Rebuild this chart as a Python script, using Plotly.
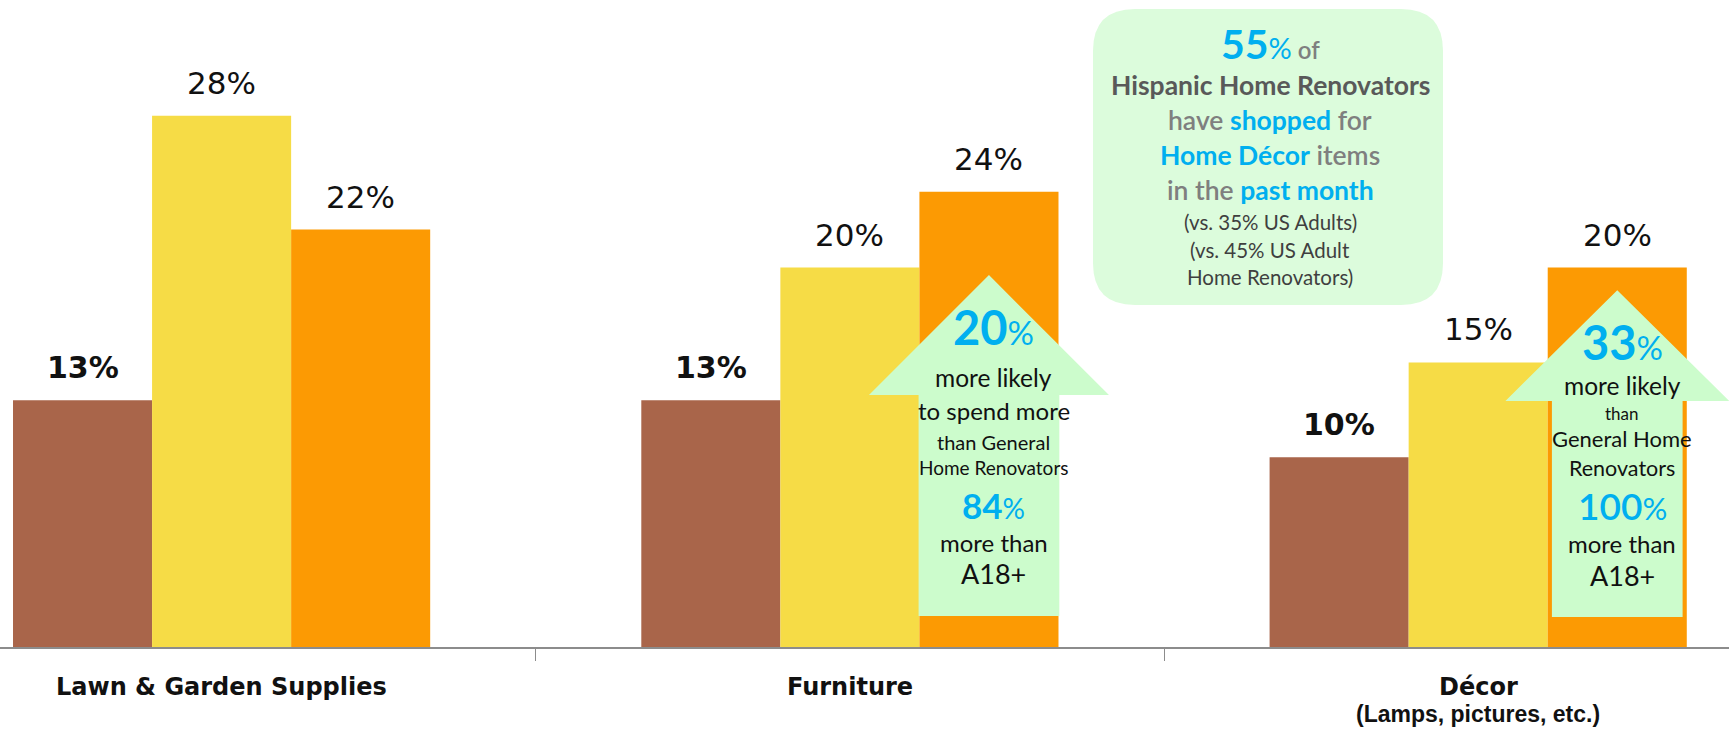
import plotly.graph_objects as go

# ---- data ----
categories = ["Lawn & Garden Supplies", "Furniture", "Décor"]
category_sublabels = ["", "", "(Lamps, pictures, etc.)"]
series_names = ["A18+", "General Home Renovators", "Hispanic Home Renovators"]
a18_vals = [13, 13, 10]
general_vals = [28, 20, 15]
hispanic_vals = [22, 24, 20]
series_values = [a18_vals, general_vals, hispanic_vals]
series_colors = ["#A9654A", "#F6DC46", "#FC9A03"]

# uplift callouts on the Hispanic bars (category index, vs general, vs A18+)
callout_cats = [1, 2]
callout_vs_general = ["20", "33"]
callout_vs_adults = ["84", "100"]

# ---- page geometry ----
W, H = 1729, 731
M_BOTTOM = 84
PLOT_H = H - M_BOTTOM
X_RANGE = [-0.3527, 2.3992]
Y_RANGE = [0, 34.1]

GROUP_W = 0.664
BAR_W = GROUP_W / 3

CYAN = "#00AFEF"
GRAY = "#7F7F7F"
DARK = "#595959"
FONT = "Lato, 'Open Sans', sans-serif"
NUM_FONT = "'DejaVu Sans', sans-serif"
LABEL_FONT = "'DejaVu Sans', sans-serif"
SUB_FONT = "'Liberation Sans', Arial, sans-serif"


def px_x(xp):
    return xp / W


def px_y(yp):
    return 1 - yp / PLOT_H


fig = go.Figure()
xs = list(range(len(categories)))
for i, (name, vals, col) in enumerate(zip(series_names, series_values, series_colors)):
    fig.add_trace(go.Bar(
        x=xs, y=vals, name=name,
        width=BAR_W, offset=-GROUP_W / 2 + i * BAR_W,
        marker=dict(color=col, line=dict(width=0)),
        hoverinfo="skip",
    ))

annotations = []
# value labels above each bar
for i, vals in enumerate(series_values):
    for c, v in enumerate(vals):
        txt = f"<b>{v}%</b>" if i == 0 else f"{v}%"
        annotations.append(dict(
            x=c - GROUP_W / 2 + (i + 0.5) * BAR_W, y=v, xref="x", yref="y",
            text=txt, showarrow=False, xanchor="center", yanchor="middle", yshift=33,
            font=dict(family=NUM_FONT, size=30 if i == 0 else 31, color="#111111"),
        ))

# category labels under the axis
for c, (lab, sub) in enumerate(zip(categories, category_sublabels)):
    annotations.append(dict(
        x=c, y=px_y(687), xref="x", yref="paper", text=f"<b>{lab}</b>",
        showarrow=False, xanchor="center", yanchor="middle",
        font=dict(family=LABEL_FONT, size=24, color="#111111"),
    ))
    if sub:
        annotations.append(dict(
            x=c, y=px_y(714), xref="x", yref="paper", text=f"<b>{sub}</b>",
            showarrow=False, xanchor="center", yanchor="middle",
            font=dict(family=SUB_FONT, size=23, color="#111111"),
        ))

shapes = []

# summary box
box_l, box_r, box_t, box_b, rad = 1093, 1443, 9, 305, 42
path = (
    f"M {px_x(box_l + rad)} {px_y(box_t)} "
    f"L {px_x(box_r - rad)} {px_y(box_t)} "
    f"Q {px_x(box_r)} {px_y(box_t)} {px_x(box_r)} {px_y(box_t + rad)} "
    f"L {px_x(box_r)} {px_y(box_b - rad)} "
    f"Q {px_x(box_r)} {px_y(box_b)} {px_x(box_r - rad)} {px_y(box_b)} "
    f"L {px_x(box_l + rad)} {px_y(box_b)} "
    f"Q {px_x(box_l)} {px_y(box_b)} {px_x(box_l)} {px_y(box_b - rad)} "
    f"L {px_x(box_l)} {px_y(box_t + rad)} "
    f"Q {px_x(box_l)} {px_y(box_t)} {px_x(box_l + rad)} {px_y(box_t)} Z"
)
shapes.append(dict(type="path", path=path, xref="paper", yref="paper",
                   fillcolor="#DCFCDC", line=dict(width=0), layer="above"))


def gray(s):
    return f"<span style='color:{GRAY};font-weight:600'>{s}</span>"


def cyan(s):
    return f"<b><span style='color:{CYAN}'>{s}</span></b>"


box_cx = 1270
box_lines = [
    (43, f"<b><span style='color:{CYAN};font-size:41px'>55</span></b>"
         f"<span style='color:{CYAN};font-size:29px'>%</span>"
         f"<span style='color:{GRAY};font-size:24px;font-weight:600'> of</span>"),
    (85, f"<b><span style='color:{DARK}'>Hispanic Home Renovators</span></b>"),
    (120, gray("have ") + cyan("shopped") + gray(" for")),
    (155, cyan("Home Décor") + gray(" items")),
    (190, gray("in the ") + cyan("past month")),
]
for yp, txt in box_lines:
    annotations.append(dict(x=px_x(box_cx), y=px_y(yp), xref="paper", yref="paper",
                            text=txt, showarrow=False, xanchor="center", yanchor="middle",
                            font=dict(family=FONT, size=26.5, color=DARK)))
for yp, txt in [(222, "(vs. 35% US Adults)"), (250, "(vs. 45% US Adult"), (277, "Home Renovators)")]:
    annotations.append(dict(x=px_x(box_cx), y=px_y(yp), xref="paper", yref="paper",
                            text=txt, showarrow=False, xanchor="center", yanchor="middle",
                            font=dict(family=FONT, size=20.5, color="#3F3F3F")))

# up-arrows over the Hispanic bars
arrow_geom = [
    # tip value, head-base value, bottom value, head half-width, shaft half-width (x units)
    (19.6, 13.28, 1.63, 0.191, 0.112),
    (18.8, 12.97, 1.58, 0.178, 0.104),
]
arrow_text = [
    [(327, f"<b><span style='color:{CYAN};font-size:47px'>{callout_vs_general[0]}</span></b>"
           f"<span style='color:{CYAN};font-size:33px'>%</span>", 25),
     (377, "more likely", 24.5), (410, "to spend more", 24),
     (442, "than General", 20), (467, "Home Renovators", 19),
     (505, f"<b><span style='color:{CYAN}'>{callout_vs_adults[0]}</span></b>"
           f"<span style='color:{CYAN};font-size:28px'>%</span>", 35),
     (542, "more than", 24), (573, "A18+", 27)],
    [(342, f"<b><span style='color:{CYAN};font-size:47px'>{callout_vs_general[1]}</span></b>"
           f"<span style='color:{CYAN};font-size:33px'>%</span>", 25),
     (385, "more likely", 24.5), (413, "than", 17),
     (438, "General Home", 22), (468, "Renovators", 21.5),
     (505, f"<span style='color:{CYAN};font-weight:600'>{callout_vs_adults[1]}</span>"
           f"<span style='color:{CYAN};font-size:31px'>%</span>", 37),
     (543, "more than", 24), (575, "A18+", 27)],
]
for k, c in enumerate(callout_cats):
    cx = c - GROUP_W / 2 + 2.5 * BAR_W
    tip, base, bot, hw, sw = arrow_geom[k]
    apath = (f"M {cx} {tip} L {cx + hw} {base} L {cx + sw} {base} L {cx + sw} {bot} "
             f"L {cx - sw} {bot} L {cx - sw} {base} L {cx - hw} {base} Z")
    shapes.append(dict(type="path", path=apath, xref="x", yref="y",
                       fillcolor="#CCFCCC", line=dict(width=0), layer="above"))
    for yp, txt, size in arrow_text[k]:
        annotations.append(dict(x=cx, y=px_y(yp), xref="x", yref="paper",
                                text=txt, showarrow=False, xanchor="center", yanchor="middle",
                                xshift=5,
                                font=dict(family=FONT, size=size, color="#111111")))

fig.update_layout(
    width=W, height=H,
    margin=dict(l=0, r=0, t=0, b=M_BOTTOM, pad=0),
    paper_bgcolor="white", plot_bgcolor="white",
    barmode="overlay",
    showlegend=False,
    xaxis=dict(range=X_RANGE, showgrid=False, zeroline=False,
               showline=True, linecolor="#8C8C8C", linewidth=2,
               tickmode="array", tickvals=[0.5, 1.5], ticktext=["", ""],
               ticks="outside", ticklen=12, tickcolor="#8C8C8C", tickwidth=1),
    yaxis=dict(range=Y_RANGE, visible=False, showgrid=False, zeroline=False),
    shapes=shapes,
    annotations=annotations,
)

fig.write_html("out.html")
